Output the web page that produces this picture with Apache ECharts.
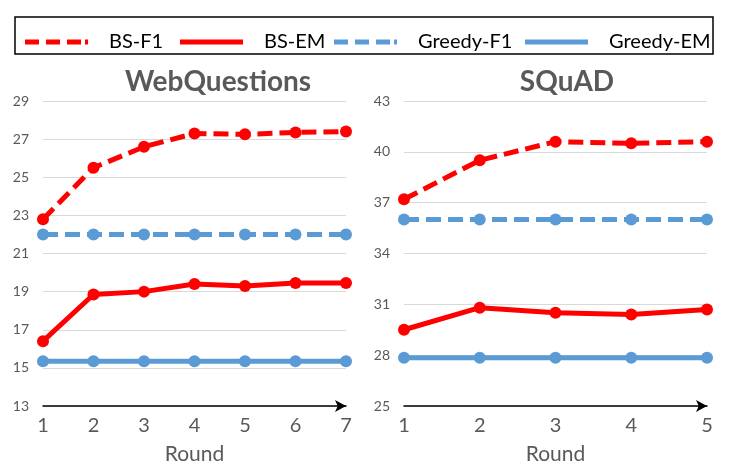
<!DOCTYPE html>
<html>
<head>
<meta charset="utf-8">
<script src="https://cdn.jsdelivr.net/npm/echarts@6/dist/echarts.min.js"></script>
<style>
  html, body { margin: 0; padding: 0; background: #fff; }
  #chart { width: 740px; height: 471px; }
</style>
</head>
<body>
<div id="chart"></div>
<script>
// rounds on the x axis
const wqRounds = ["1", "2", "3", "4", "5", "6", "7"];
const sqRounds = ["1", "2", "3", "4", "5"];

// WebQuestions
const wqBsF1 = [22.8, 25.5, 26.6, 27.3, 27.25, 27.35, 27.4];
const wqBsEm = [16.4, 18.85, 19.0, 19.4, 19.3, 19.45, 19.45];
const wqGreedyF1 = [22.0, 22.0, 22.0, 22.0, 22.0, 22.0, 22.0];
const wqGreedyEm = [15.35, 15.35, 15.35, 15.35, 15.35, 15.35, 15.35];

// SQuAD
const sqBsF1 = [37.2, 39.5, 40.6, 40.5, 40.6];
const sqBsEm = [29.5, 30.8, 30.5, 30.4, 30.7];
const sqGreedyF1 = [36.0, 36.0, 36.0, 36.0, 36.0];
const sqGreedyEm = [27.85, 27.85, 27.85, 27.85, 27.85];

const RED = "#FF0000";
const BLUE = "#5B9BD5";
const GREY = "#595959";
const FONT = "Lato";

const chart = echarts.init(document.getElementById("chart"));

function lineSeries(name, data, color, dashed, idx) {
  return {
    name,
    type: "line",
    data,
    xAxisIndex: idx,
    yAxisIndex: idx,
    symbol: "circle",
    symbolSize: 12,
    lineStyle: { color, width: 5, type: dashed ? [15, 7] : "solid" },
    itemStyle: { color },
    animation: false,
  };
}

function xAxis(idx, data) {
  return {
    gridIndex: idx,
    type: "category",
    data,
    boundaryGap: false,
    name: "Round",
    nameLocation: "middle",
    nameGap: 38,
    nameTextStyle: { fontFamily: FONT, fontSize: 21, color: GREY },
    axisLine: { lineStyle: { color: "#000", width: 1.5 }, symbol: ["none", "arrow"], symbolSize: [9, 11] },
    axisTick: { show: false },
    axisLabel: { fontFamily: FONT, fontSize: 20, color: GREY, margin: 10 },
  };
}

function yAxis(idx, min, max, interval) {
  return {
    gridIndex: idx,
    type: "value",
    min, max, interval,
    axisLine: { show: false },
    axisTick: { show: false },
    splitLine: { lineStyle: { color: "#D9D9D9", width: 1 } },
    axisLabel: { fontFamily: FONT, fontSize: 14, color: GREY, margin: 14 },
  };
}

const dashIcon = "path://M0,0h14v5h-14z M21,0h14v5h-14z M42,0h14v5h-14z M60,0h3v5h-3z";
const solidIcon = "path://M0,0h63v5h-63z";

function legend(name, left, icon) {
  return {
    data: [{ name, icon }],
    left, top: 27,
    itemWidth: 63, itemHeight: 5,
    textStyle: { fontFamily: FONT, fontSize: 20, color: "#000", padding: [0, 0, 0, 16] },
    selectedMode: false,
  };
}

const option = {
  backgroundColor: "#fff",
  title: [
    { text: "WebQuestions", left: 213, top: 63, textAlign: "center",
      textStyle: { fontFamily: FONT, fontSize: 28, fontWeight: "bold", color: GREY } },
    { text: "SQuAD", left: 562, top: 63, textAlign: "center",
      textStyle: { fontFamily: FONT, fontSize: 28, fontWeight: "bold", color: GREY } },
  ],
  legend: [
    legend("BS-F1", 20, dashIcon),
    legend("BS-EM", 175, solidIcon),
    legend("Greedy-F1", 329, dashIcon),
    legend("Greedy-EM", 520, solidIcon),
  ],
  graphic: [{
    type: "rect",
    shape: { x: 15, y: 17, width: 698, height: 37 },
    style: { fill: "none", stroke: "#000", lineWidth: 1.5 },
  }],
  grid: [
    { left: 43, right: 394, top: 101, bottom: 65 },
    { left: 404, right: 33, top: 101, bottom: 65 },
  ],
  xAxis: [xAxis(0, wqRounds), xAxis(1, sqRounds)],
  yAxis: [yAxis(0, 13, 29, 2), yAxis(1, 25, 43, 3)],
  series: [
    lineSeries("Greedy-F1", wqGreedyF1, BLUE, true, 0),
    lineSeries("Greedy-EM", wqGreedyEm, BLUE, false, 0),
    lineSeries("BS-F1", wqBsF1, RED, true, 0),
    lineSeries("BS-EM", wqBsEm, RED, false, 0),
    lineSeries("Greedy-F1", sqGreedyF1, BLUE, true, 1),
    lineSeries("Greedy-EM", sqGreedyEm, BLUE, false, 1),
    lineSeries("BS-F1", sqBsF1, RED, true, 1),
    lineSeries("BS-EM", sqBsEm, RED, false, 1),
  ],
};

chart.setOption(option);
</script>
</body>
</html>
